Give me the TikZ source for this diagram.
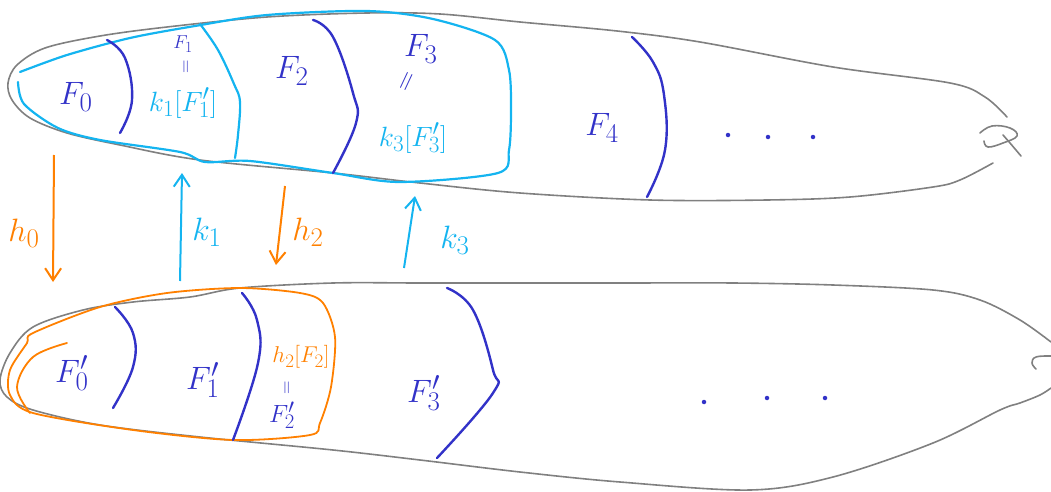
\documentclass[tikz,border=0pt]{standalone}
\usetikzlibrary{arrows.meta}
\definecolor{outl}{RGB}{128,128,128}
\definecolor{cy}{RGB}{20,180,240}
\definecolor{bl}{RGB}{50,50,200}
\definecolor{org}{RGB}{255,128,0}
\tikzset{
  outline/.style={draw=outl,line width=1.6pt,line cap=round,line join=round},
  cyline/.style={draw=cy,line width=2.2pt,line cap=round,line join=round},
  blline/.style={draw=bl,line width=2.4pt,line cap=round},
  orline/.style={draw=org,line width=1.8pt,line cap=round,line join=round},
  lbl/.style={inner sep=0pt,font=\Huge,scale=1.3},
  mlbl/.style={inner sep=0pt,font=\Huge,scale=1.12},
  slbl/.style={inner sep=0pt,font=\Huge,scale=0.75},
  dotmark/.style={fill=bl,draw=none,circle,inner sep=0pt,minimum size=4.5pt},
  maparrow/.style={line width=2pt,-{Straight Barb[length=12pt,width=16pt,line width=2pt]}}
}
\begin{document}
\begin{tikzpicture}[x=1pt,y=-1pt]
\useasboundingbox (0,0) rectangle (1051,492);
% ---------- top outline ----------
\draw[outline] plot[smooth,tension=0.55] coordinates {(993,163) (960,180) (933,187) (850,197) (767,200) (650,200) (520,193) (420,183) (333,173) (200,160) (120,145) (67,133) (30,118) (12,100) (8,83) (17,65) (45,48) (100,36) (167,27) (267,17) (367,13) (440,14) (520,22) (617,31) (700,42) (833,67) (950,83) (985,97) (1007,117)};
\draw[outline] plot[smooth,tension=0.7] coordinates {(980,133) (992,126) (1010,128) (1017,136) (1003,143) (988,147) (984,141)};
\draw[outline] (1003,135) -- (1010,143) -- (1021,156);
% ---------- top cyan region ----------
\draw[cyline] plot[smooth,tension=0.5] coordinates {(20,72) (67,55) (130,38) (195,26) (267,15) (367,11) (433,19) (495,40) (509,70) (511,110) (509,150) (498,173) (400,182) (333,173) (250,161) (205,162) (180,152) (100,140) (58,128) (24,104) (18,82)};
\draw[cyline] plot[smooth,tension=0.6] coordinates {(200,24) (218,50) (234,84) (240,102) (238,135) (235,158)};
% ---------- top blue dividers ----------
\draw[blline] plot[smooth,tension=0.7] coordinates {(107,40) (125,58) (132,100) (120,133)};
\draw[blline] plot[smooth,tension=0.7] coordinates {(313,20) (333,37) (353,93) (356,123) (333,173)};
\draw[blline] plot[smooth,tension=0.7] coordinates {(632,37) (653,62) (664,95) (665,150) (647,197)};
% ---------- top labels ----------
\node[lbl,text=bl] (F0) at (76,97) {$F_0$};
\node[slbl,text=bl] (F1s) at (183,44) {$F_1$};
\node[slbl,text=bl,rotate=90] (eq1) at (187,67) {$=$};
\node[mlbl,text=cy] (k1F1) at (183,103) {$k_1[F_1']$};
\node[lbl,text=bl] (F2) at (292,71) {$F_2$};
\node[lbl,text=bl] (F3) at (421,49) {$F_3$};
\node[mlbl,text=bl,rotate=65] (eq3) at (408,82) {$=$};
\node[mlbl,text=cy] (k3F3) at (413,138) {$k_3[F_3']$};
\node[lbl,text=bl] (F4) at (602,128) {$F_4$};
\node[dotmark] (td1) at (728,135) {};
\node[dotmark] (td2) at (768,137) {};
\node[dotmark] (td3) at (813,137) {};
% ---------- bottom outline ----------
\draw[outline] plot[smooth,tension=0.55] coordinates {(1051,342) (1020,320) (980,300) (933,290) (833,285) (733,283) (620,283) (520,283) (420,283) (333,283) (240,288) (190,297) (133,302) (83,310) (33,327) (10,353) (0,380) (7,397) (33,410) (100,425) (200,437) (333,450) (420,460) (520,472) (620,482) (750,490) (833,477) (933,443) (1000,410) (1020,403) (1040,395) (1051,388)};
\draw[outline] plot[smooth,tension=0.7] coordinates {(1051,356) (1036,357) (1032,363) (1036,369)};
% ---------- bottom orange region ----------
\draw[orline] plot[smooth cycle,tension=0.5] coordinates {(33,333) (100,307) (167,293) (240,288) (300,293) (323,303) (335,337) (331,387) (320,423) (310,435) (233,440) (133,430) (33,413) (10,395) (10,370) (27,343)};
\draw[orline] plot[smooth,tension=0.6] coordinates {(67,343) (33,357) (17,387) (30,413)};
% ---------- bottom blue dividers ----------
\draw[blline] plot[smooth,tension=0.7] coordinates {(115,307) (133,333) (133,367) (113,408)};
\draw[blline] plot[smooth,tension=0.7] coordinates {(242,293) (257,320) (258,363) (233,440)};
\draw[blline] plot[smooth,tension=0.7] coordinates {(447,288) (473,310) (493,370) (493,393) (437,458)};
% ---------- bottom labels ----------
\node[lbl,text=bl] (F0p) at (72,373) {$F_0'$};
\node[lbl,text=bl] (F1p) at (203,380) {$F_1'$};
\node[inner sep=0pt,text=org,font=\Huge,scale=0.92] (h2F2) at (301,357) {$h_2[F_2]$};
\node[slbl,text=bl,rotate=90] (eq2) at (288,388) {$=$};
\node[inner sep=0pt,text=bl,font=\Huge] (F2p) at (282,415) {$F_2'$};
\node[lbl,text=bl] (F3p) at (424,393) {$F_3'$};
\node[dotmark] (bd1) at (704,402) {};
\node[dotmark] (bd2) at (767,398) {};
\node[dotmark] (bd3) at (825,398) {};
% ---------- maps ----------
\coordinate (h0s) at (54,155);
\coordinate (h0e) at (53,282);
\coordinate (k1s) at (180,281);
\coordinate (k1e) at (182,173);
\coordinate (h2s) at (285,186);
\coordinate (h2e) at (276,265);
\coordinate (k3s) at (404,268);
\coordinate (k3e) at (415,196);
\draw[maparrow,org] (h0s) -- (h0e);
\draw[maparrow,cy] (k1s) -- (k1e);
\draw[maparrow,org] (h2s) -- (h2e);
\draw[maparrow,cy] (k3s) -- (k3e);
\node[lbl,text=org] (h0l) at (24,233) {$h_0$};
\node[lbl,text=cy] (k1l) at (207,232) {$k_1$};
\node[lbl,text=org] (h2l) at (308,232) {$h_2$};
\node[lbl,text=cy] (k3l) at (455,240) {$k_3$};
\end{tikzpicture}
\end{document}
